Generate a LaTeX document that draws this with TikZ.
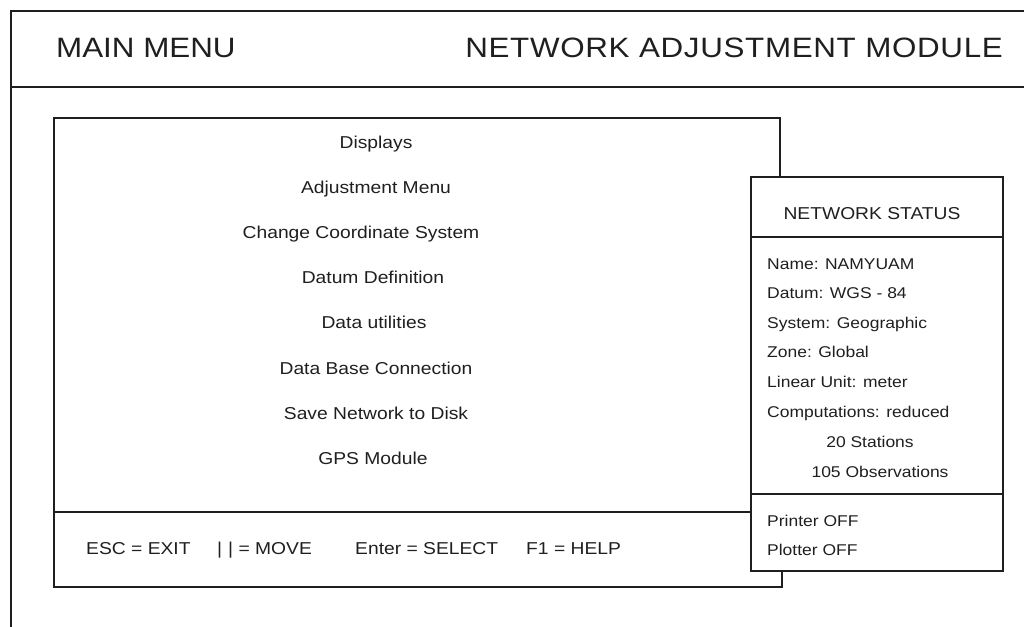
\documentclass[tikz,border=0pt]{standalone}
\usepackage{fontspec}
\setmainfont{Liberation Sans}[FakeStretch=1.12]
\begin{document}
\begin{tikzpicture}[x=1pt,y=-1pt,
  frame/.style={draw=black!88, line width=2.7pt, line cap=rect},
  hdr/.style={inner sep=0pt, text=black!88, font=\fontsize{28}{30}\selectfont},
  menuitem/.style={inner sep=0pt, anchor=base, text=black!88, font=\fontsize{17.2}{20}\selectfont},
  stat/.style={inner sep=0pt, anchor=base west, text=black!88, font=\fontsize{15.6}{18}\selectfont},
  statc/.style={stat, anchor=base},
  keyhelp/.style={inner sep=0pt, anchor=base west, text=black!88, font=\fontsize{17.2}{20}\selectfont}]
\useasboundingbox (0,0) rectangle (1024,626);

% outer screen frame and title bar
\draw[frame] (11,626) -- (11,11) -- (1024,11);
\draw[frame] (11,87) -- (1024,87);
\node[hdr, anchor=base west] (mainmenu) at (56,57) {MAIN MENU};
\node[hdr, anchor=base east] (module) at (1003,57) {\addfontfeature{LetterSpace=2.4}NETWORK ADJUSTMENT MODULE};

% menu window
\draw[frame] (780,177) -- (780,118) -- (54,118) -- (54,587) -- (782,587) -- (782,571);
\draw[frame] (54,512) -- (751,512);

\node[menuitem] (m1) at (376,148) {Displays};
\node[menuitem] (m2) at (376,193) {Adjustment Menu};
\node[menuitem] (m3) at (361,238) {Change Coordinate System};
\node[menuitem] (m4) at (373,283) {Datum Definition};
\node[menuitem] (m5) at (374,328) {Data utilities};
\node[menuitem] (m6) at (376,374) {Data Base Connection};
\node[menuitem] (m7) at (376,419) {Save Network to Disk};
\node[menuitem] (m8) at (373,464) {GPS Module};

% key help line
\node[keyhelp] (k1) at (86,554) {ESC = EXIT};
\node[keyhelp] (k2) at (217,554) {|\kern6pt| = MOVE};
\node[keyhelp] (k3) at (355,554) {Enter = SELECT};
\node[keyhelp] (k4) at (526,554) {F1 = HELP};

% network status window
\draw[frame] (751,177) rectangle (1003,571);
\draw[frame] (751,237) -- (1003,237);
\draw[frame] (751,494) -- (1003,494);

\node[menuitem] (st) at (872,219) {NETWORK STATUS};
\node[stat] (s1) at (767,269) {Name: NAMYUAM};
\node[stat] (s2) at (767,298) {Datum: WGS - 84};
\node[stat] (s3) at (767,328) {System: Geographic};
\node[stat] (s4) at (767,357) {Zone: Global};
\node[stat] (s5) at (767,387) {Linear Unit: meter};
\node[stat] (s6) at (767,417) {Computations: reduced};
\node[statc] (s7) at (870,447) {20 Stations};
\node[statc] (s8) at (880,477) {105 Observations};
\node[stat] (p1) at (767,526) {Printer OFF};
\node[stat] (p2) at (767,555) {Plotter OFF};
\end{tikzpicture}
\end{document}
